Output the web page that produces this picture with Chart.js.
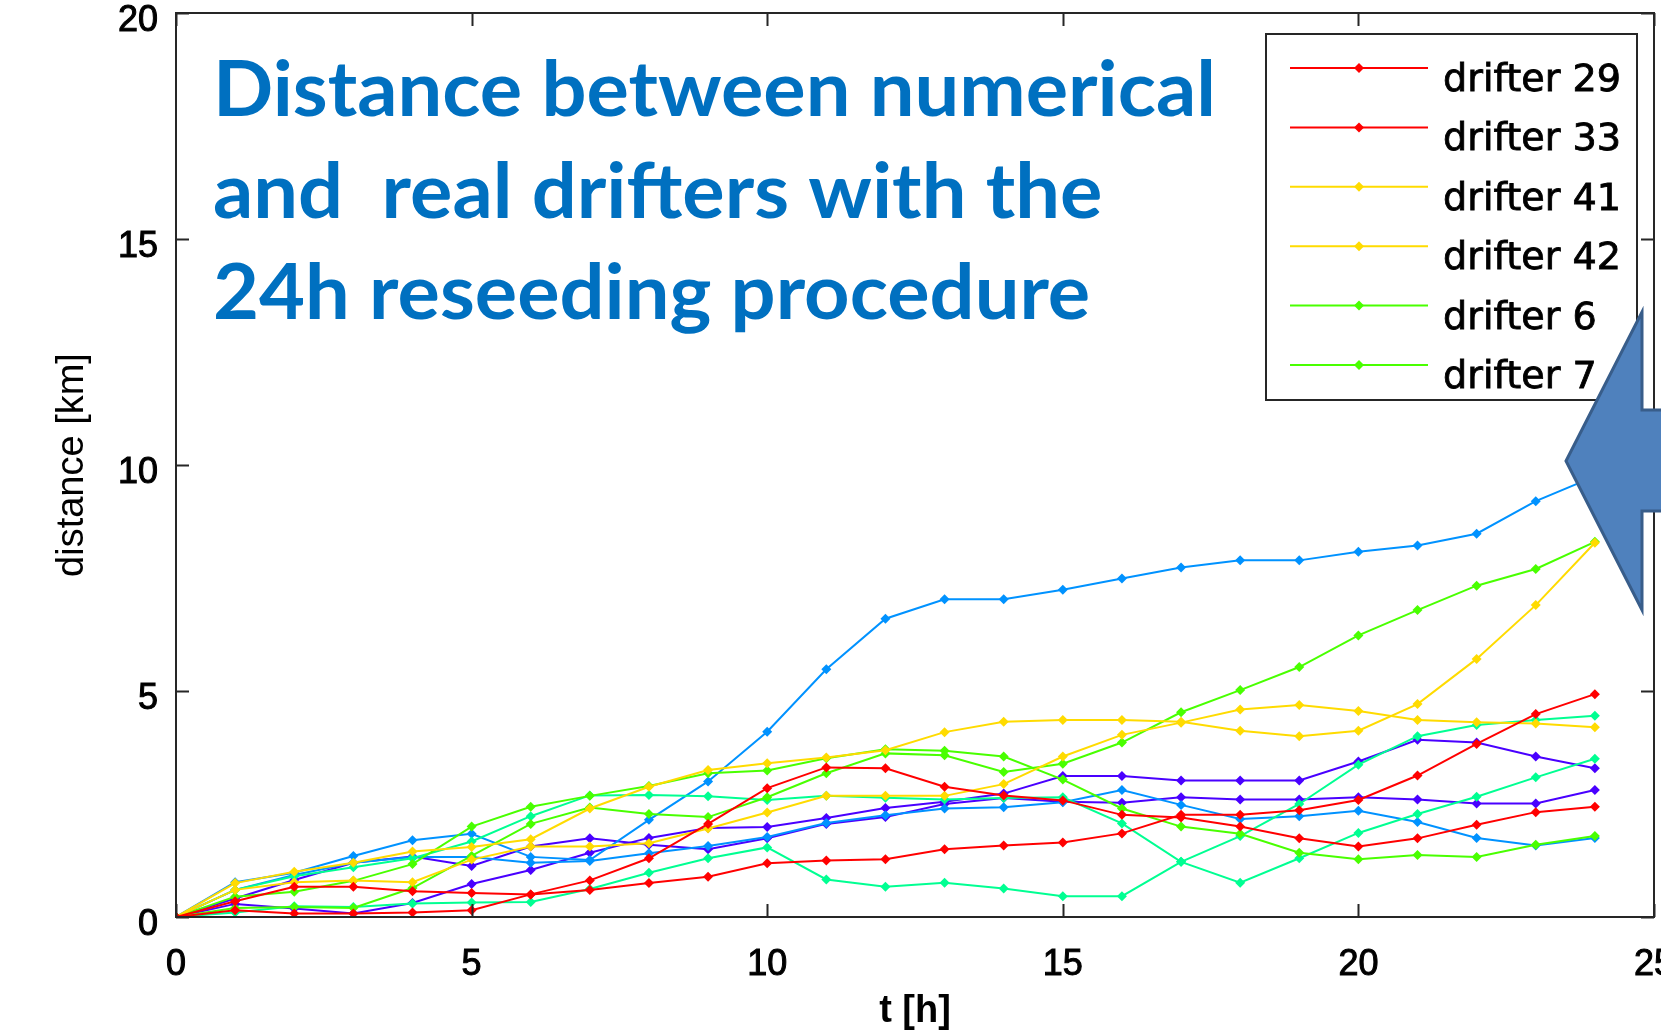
<!DOCTYPE html>
<html><head><meta charset="utf-8">
<script src="https://cdn.jsdelivr.net/npm/chart.js@4/dist/chart.umd.min.js"></script>
<style>
html,body{margin:0;padding:0;background:#fff;overflow:hidden;width:1661px;height:1032px;}
#wrap{position:absolute;left:0;top:0;width:1681px;height:1060px;}
</style></head><body>
<div id="wrap"><canvas id="c" width="1681" height="1060"></canvas></div>
<script>
// ---- data ----
const hours = [0,1,2,3,4,5,6,7,8,9,10,11,12,13,14,15,16,17,18,19,20,21,22,23,24];
const seriesLabels = ["drifter 29","drifter 33","drifter 41","drifter 42","drifter 6","drifter 7",
                      "unlabelled 1","unlabelled 2","unlabelled 3","unlabelled 4","unlabelled 5","unlabelled 6"];
const seriesColors = ["#FF0000","#FF0000","#FFDB00","#FFDB00","#49FF00","#49FF00",
                      "#00FF92","#00FF92","#0092FF","#0092FF","#4900FF","#4900FF"];
const drifter29 = [0,0.15,0.08,0.08,0.10,0.15,0.50,0.81,1.30,2.06,2.85,3.31,3.29,2.88,2.69,2.58,2.26,2.20,2.00,1.74,1.56,1.74,2.04,2.32,2.44];
const drifter33 = [0,0.35,0.67,0.67,0.57,0.53,0.50,0.60,0.75,0.89,1.19,1.25,1.28,1.50,1.58,1.65,1.85,2.26,2.26,2.36,2.59,3.13,3.83,4.49,4.93];
const drifter41 = [0,0.60,0.77,0.81,0.77,1.27,1.56,1.56,1.63,1.96,2.31,2.68,2.68,2.68,2.94,3.55,4.03,4.30,4.59,4.69,4.56,4.36,4.31,4.28,4.20];
const drifter42 = [0,0.75,1.00,1.20,1.45,1.55,1.72,2.40,2.88,3.25,3.40,3.53,3.69,4.09,4.32,4.36,4.36,4.32,4.12,4.00,4.12,4.71,5.71,6.90,8.28];
const drifter6  = [0,0.45,0.56,0.80,1.17,2.00,2.44,2.68,2.90,3.18,3.24,3.51,3.71,3.68,3.55,3.04,2.40,2.00,1.84,1.42,1.28,1.37,1.33,1.60,1.79];
const drifter7  = [0,0.20,0.22,0.20,0.64,1.35,2.06,2.42,2.28,2.21,2.65,3.18,3.62,3.58,3.21,3.39,3.86,4.53,5.02,5.53,6.23,6.79,7.33,7.70,8.30];
const unlabelled1 = [0,0.10,0.24,0.22,0.30,0.32,0.33,0.62,0.98,1.30,1.54,0.83,0.67,0.76,0.63,0.46,0.46,1.22,1.79,2.50,3.37,4.00,4.25,4.36,4.45];
const unlabelled2 = [0,0.60,0.90,1.10,1.30,1.67,2.23,2.69,2.70,2.67,2.59,2.68,2.64,2.60,2.63,2.65,2.07,1.22,0.76,1.30,1.86,2.28,2.66,3.09,3.50];
const unlabelled3 = [0,0.77,0.98,1.35,1.70,1.84,1.33,1.26,2.15,3.00,4.10,5.48,6.60,7.03,7.03,7.24,7.49,7.73,7.89,7.89,8.08,8.22,8.48,9.20,9.75];
const unlabelled4 = [0,0.60,0.93,1.20,1.33,1.33,1.20,1.24,1.41,1.57,1.77,2.08,2.25,2.40,2.43,2.54,2.81,2.48,2.17,2.23,2.35,2.10,1.75,1.58,1.75];
const unlabelled5 = [0,0.29,0.19,0.08,0.31,0.73,1.04,1.42,1.75,1.97,1.99,2.19,2.41,2.55,2.73,3.12,3.12,3.02,3.02,3.02,3.44,3.92,3.86,3.55,3.29];
const unlabelled6 = [0,0.41,0.82,1.20,1.34,1.13,1.56,1.74,1.60,1.50,1.74,2.06,2.21,2.50,2.63,2.55,2.53,2.65,2.60,2.60,2.65,2.60,2.51,2.51,2.81];
const seriesValues = [drifter29,drifter33,drifter41,drifter42,drifter6,drifter7,
                      unlabelled1,unlabelled2,unlabelled3,unlabelled4,unlabelled5,unlabelled6];
const legendCount = 6;
const xTicks = [0,5,10,15,20,25];
const yTicks = [0,5,10,15,20];
const annotationLines = ["Distance between numerical","and  real drifters with the","24h reseeding procedure"];
const xTitle = "t [h]";
const yTitle = "distance [km]";

// ---- chart ----
const datasets = seriesValues.map((vals, i) => ({
  label: seriesLabels[i],
  data: vals.map((v, k) => ({x: hours[k], y: v})),
  borderColor: seriesColors[i],
  backgroundColor: seriesColors[i],
  borderWidth: 2,
  pointStyle: 'rectRot',
  pointRadius: 5,
  pointBorderWidth: 0,
  pointBackgroundColor: seriesColors[i],
  tension: 0,
  fill: false
}));

const decor = {
  id: 'decor',
  afterDatasetsDraw(chart) {
    const {ctx, chartArea: a, scales} = chart;
    ctx.save();
    ctx.strokeStyle = '#262626';
    ctx.lineWidth = 2;
    ctx.strokeRect(a.left, a.top, a.right - a.left, a.bottom - a.top);
    const tl = 13;
    ctx.beginPath();
    scales.x.ticks.forEach(t => {
      const px = Math.round(scales.x.getPixelForValue(t.value)) + 0.5;
      ctx.moveTo(px, a.bottom); ctx.lineTo(px, a.bottom - tl);
      ctx.moveTo(px, a.top); ctx.lineTo(px, a.top + tl);
    });
    scales.y.ticks.forEach(t => {
      const py = Math.round(scales.y.getPixelForValue(t.value)) + 0.5;
      ctx.moveTo(a.left, py); ctx.lineTo(a.left + tl, py);
      ctx.moveTo(a.right, py); ctx.lineTo(a.right - tl, py);
    });
    ctx.stroke();
    ctx.restore();
  },
  afterDraw(chart) {
    const {ctx} = chart;
    // annotation text
    ctx.save();
    ctx.fillStyle = '#0070C0';
    ctx.font = 'bold 76px Lato, "Open Sans", sans-serif';
    ctx.textBaseline = 'alphabetic';
    const w0 = ctx.measureText(annotationLines[0]).width;
    const sx = 1003 / w0;
    annotationLines.forEach((ln, i) => {
      ctx.save();
      ctx.translate(213, 116 + i * 101.5);
      ctx.scale(sx, 1);
      ctx.fillText(ln, 0, 0);
      ctx.restore();
    });
    ctx.restore();

    // legend box
    const L = {left: 1266, top: 34, right: 1637, bottom: 400, row0: 68, step: 59.4, x0: 1290, x1: 1428, tx: 1443, w: 178};
    ctx.save();
    ctx.fillStyle = '#fff';
    ctx.fillRect(L.left, L.top, L.right - L.left, L.bottom - L.top);
    ctx.strokeStyle = '#262626';
    ctx.lineWidth = 2;
    ctx.strokeRect(L.left, L.top, L.right - L.left, L.bottom - L.top);
    ctx.font = '37px "DejaVu Sans", sans-serif';
    const lsx = L.w / ctx.measureText(chart.data.datasets[0].label).width;
    chart.data.datasets.slice(0, legendCount).forEach((ds, i) => {
      const y = L.row0 + i * L.step;
      ctx.strokeStyle = ds.borderColor;
      ctx.lineWidth = 2;
      ctx.beginPath(); ctx.moveTo(L.x0, y); ctx.lineTo(L.x1, y); ctx.stroke();
      const mx = (L.x0 + L.x1) / 2;
      ctx.fillStyle = ds.borderColor;
      ctx.beginPath();
      ctx.moveTo(mx, y - 5); ctx.lineTo(mx + 5, y); ctx.lineTo(mx, y + 5); ctx.lineTo(mx - 5, y);
      ctx.closePath(); ctx.fill();
      ctx.fillStyle = '#000';
      ctx.save();
      ctx.translate(L.tx, y + 23);
      ctx.scale(lsx, 1);
      ctx.fillText(ds.label, 0, 0);
      ctx.strokeStyle = '#000';
      ctx.lineWidth = 0.8;
      ctx.strokeText(ds.label, 0, 0);
      ctx.restore();
    });
    ctx.restore();

    // big arrow
    ctx.save();
    ctx.fillStyle = '#4F81BD';
    ctx.strokeStyle = '#385D8A';
    ctx.lineWidth = 3;
    ctx.beginPath();
    ctx.moveTo(1566, 461);
    ctx.lineTo(1642, 312);
    ctx.lineTo(1642, 410);
    ctx.lineTo(1700, 410);
    ctx.lineTo(1700, 511);
    ctx.lineTo(1642, 511);
    ctx.lineTo(1642, 610);
    ctx.closePath();
    ctx.fill(); ctx.stroke();
    ctx.restore();
  }
};

const axisFont = {family: '"Liberation Sans", Arial, sans-serif', size: 36};
const titleFont = {family: '"Liberation Sans", Arial, sans-serif', size: 38, weight: 'bold'};

new Chart(document.getElementById('c'), {
  type: 'line',
  data: {datasets},
  options: {
    responsive: false,
    animation: false,
    devicePixelRatio: 1,
    layout: {padding: {top: 13, right: 27, bottom: 0, left: 0}},
    plugins: {legend: {display: false}, tooltip: {enabled: false}, title: {display: false}},
    scales: {
      x: {
        type: 'linear', min: 0, max: 25,
        afterBuildTicks: s => { s.ticks = xTicks.map(v => ({value: v})); },
        afterFit: s => { s.height = 143; s.paddingLeft = 0; s.paddingRight = 0; s.paddingTop = 0; s.paddingBottom = 0; },
        grid: {display: false, drawTicks: false},
        border: {display: false},
        ticks: {color: '#000', padding: 26, font: axisFont, maxRotation: 0, autoSkip: false, textStrokeColor: '#000', textStrokeWidth: 1},
        title: {display: true, text: xTitle, color: '#000', font: titleFont, padding: {top: 0, bottom: 26}}
      },
      y: {
        type: 'linear', min: 0, max: 20,
        afterBuildTicks: s => { s.ticks = yTicks.map(v => ({value: v})); },
        afterFit: s => { s.width = 176; s.paddingLeft = 0; s.paddingRight = 0; s.paddingTop = 0; s.paddingBottom = 0; },
        grid: {display: false, drawTicks: false},
        border: {display: false},
        ticks: {color: '#000', padding: 18, labelOffset: 8, font: axisFont, textStrokeColor: '#000', textStrokeWidth: 1},
        title: {display: true, text: yTitle, color: '#000', font: {family: '"Liberation Sans", Arial, sans-serif', size: 38}, padding: {top: 50, bottom: 0}}
      }
    }
  },
  plugins: [decor]
});
</script>
</body></html>
